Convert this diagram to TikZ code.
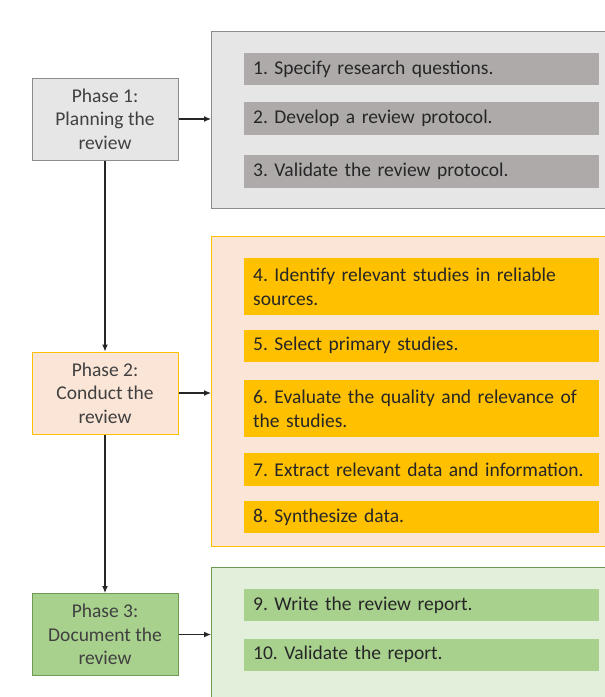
\documentclass[tikz,border=0pt]{standalone}
\usepackage{fontspec}
\setmainfont{Carlito}
\frenchspacing
\usetikzlibrary{positioning,arrows.meta}
\definecolor{planfill}{HTML}{E7E6E6}
\definecolor{planline}{HTML}{8C8C8C}
\definecolor{planitem}{HTML}{AEAAAA}
\definecolor{condfill}{HTML}{FBE5D6}
\definecolor{condline}{HTML}{FFC000}
\definecolor{conditem}{HTML}{FFC000}
\definecolor{docfill}{HTML}{A9D18E}
\definecolor{docline}{HTML}{6E9A52}
\definecolor{docgroup}{HTML}{E2EFDA}
\definecolor{docitem}{HTML}{A9D18E}
\definecolor{phasetext}{HTML}{404040}
\definecolor{tasktext}{HTML}{262626}
\definecolor{linecol}{HTML}{262626}
\tikzset{phase/.style={draw, line width=1pt, minimum width=146pt, minimum height=82pt, align=center, text=phasetext, font=\fontsize{19.5}{23.5}\selectfont}}
\tikzset{group/.style={draw, line width=1pt, anchor=north west, minimum width=396pt}}
\tikzset{task/.style={anchor=north, text width=337pt, inner xsep=9pt, inner ysep=3pt, align=left, text=tasktext, font=\fontsize{19.5}{24}\selectfont, minimum height=32pt}}
\tikzset{task2/.style={task, minimum height=57pt}}
\tikzset{arr/.style={draw=linecol, line width=1.2pt, -{Latex[length=7pt,width=6pt]}}}
\begin{document}
\begin{tikzpicture}[x=1pt,y=-1pt]
\useasboundingbox[fill=white] (0,0) rectangle (605,697);
% phases
\node[phase, fill=planfill, draw=planline] (p1) at (105,119) {Phase 1:\\Planning the\\review};
\node[phase, fill=condfill, draw=condline] (p2) at (105,393) {Phase 2:\\Conduct the\\review};
\node[phase, fill=docfill, draw=docline] (p3) at (105,634.5) {Phase 3:\\Document the\\review};
% groups
\node[group, fill=planfill, draw=planline, minimum height=177pt] (g1) at (211,31) {};
\node[group, fill=condfill, draw=condline, minimum height=310pt] (g2) at (211,236) {};
\node[group, fill=docgroup, draw=docline, minimum height=140pt] (g3) at (211,567) {};
% planning tasks
\node[task, fill=planitem, anchor=north west] (t1) at (244,53) {1. Specify research questions.};
\node[task, fill=planitem, minimum height=33pt, below=16pt of t1] (t2) {2. Develop a review protocol.};
\node[task, fill=planitem, minimum height=33pt, below=20pt of t2] (t3) {3. Validate the review protocol.};
% conduct tasks
\node[task2, fill=conditem, anchor=north west] (t4) at (244,258) {4. Identify relevant studies in reliable\\sources.};
\node[task, fill=conditem, below=14pt of t4] (t5) {5. Select primary studies.};
\node[task2, fill=conditem, below=18pt of t5] (t6) {6. Evaluate the quality and relevance of\\the studies.};
\node[task, fill=conditem, minimum height=33pt, below=16pt of t6] (t7) {7. Extract relevant data and information.};
\node[task, fill=conditem, below=14pt of t7] (t8) {8. Synthesize data.};
% document tasks
\node[task, fill=docitem, anchor=north west] (t9) at (244,589) {9. Write the review report.};
\node[task, fill=docitem, below=17pt of t9] (t10) {10. Validate the report.};
% arrows
\draw[arr] (p1) -- (p2);
\draw[arr] (p2) -- (p3);
\draw[arr] (p1.east) -- (p1.east -| g1.west);
\draw[arr] (p2.east) -- (p2.east -| g2.west);
\draw[arr] (p3.east) -- (p3.east -| g3.west);
\end{tikzpicture}
\end{document}
